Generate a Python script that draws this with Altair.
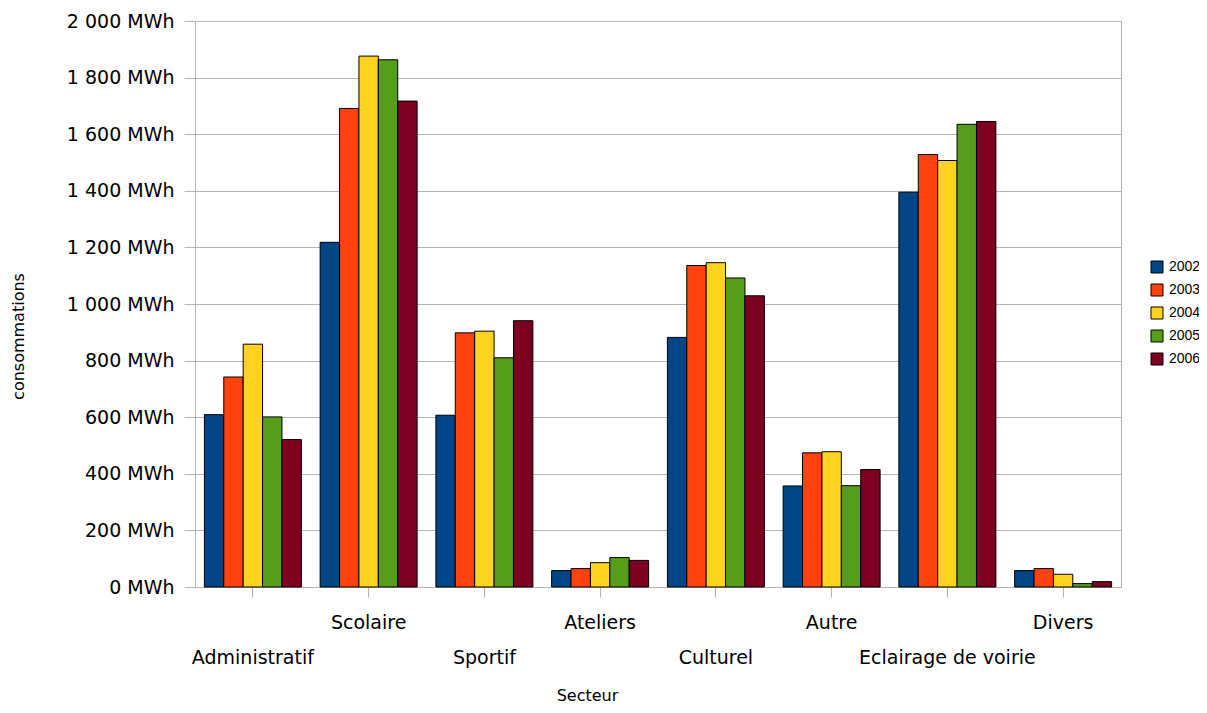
import altair as alt
import pandas as pd

secteurs = ["Administratif", "Scolaire", "Sportif", "Ateliers", "Culturel",
            "Autre", "Eclairage de voirie", "Divers"]
annees = ["2002", "2003", "2004", "2005", "2006"]
v2002 = [609, 1218, 607, 58, 882, 357, 1395, 58]
v2003 = [742, 1691, 898, 65, 1136, 474, 1528, 65]
v2004 = [858, 1876, 904, 86, 1146, 478, 1507, 45]
v2005 = [601, 1863, 810, 104, 1092, 358, 1635, 12]
v2006 = [521, 1717, 941, 94, 1029, 415, 1645, 19]
couleurs = ["#004586", "#ff420e", "#ffd320", "#579d1c", "#7e0021"]
y_ticks = list(range(0, 2001, 200))
upper_labels = ["Scolaire", "Ateliers", "Autre", "Divers"]

series = {"2002": v2002, "2003": v2003, "2004": v2004, "2005": v2005, "2006": v2006}
rows = []
for an in annees:
    for s, v in zip(secteurs, series[an]):
        rows.append({"Secteur": s, "Annee": an, "Consommation": v})
df = pd.DataFrame(rows)

GRID = "#b3b3b3"
FONT = "DejaVu Sans"

upper_js = "[" + ",".join("'%s'" % u for u in upper_labels) + "]"

chart = alt.Chart(df).mark_bar(stroke="black", strokeWidth=1).encode(
    x=alt.X(
        "Secteur:N",
        sort=secteurs,
        scale=alt.Scale(paddingInner=0.162, paddingOuter=0.081),
        axis=alt.Axis(
            title="Secteur",
            titleFont=FONT,
            titleFontSize=16,
            titleFontWeight="normal",
            titleColor="#000000",
            titleX=392,
            titleY=108,
            titleAlign="center",
            titleBaseline="middle",
            labelAngle=0,
            labelFont=FONT,
            labelFontSize=19,
            labelColor="#000000",
            labelPadding=16,
            labelLineHeight=35,
            labelOverlap=False,
            labelBound=False,
            labelExpr="indexof(" + upper_js + ", datum.value) >= 0 ? datum.label : ['', datum.label]",
            tickSize=10,
            tickColor=GRID,
            domainColor=GRID,
            grid=False,
        ),
    ),
    xOffset=alt.XOffset("Annee:N", sort=annees,
                        scale=alt.Scale(paddingInner=0, paddingOuter=0)),
    y=alt.Y(
        "Consommation:Q",
        scale=alt.Scale(domain=[0, 2000], nice=False),
        axis=alt.Axis(
            title="consommations",
            titleFont=FONT,
            titleFontSize=16,
            titleFontWeight="normal",
            titleColor="#000000",
            titleX=-177,
            titleY=315,
            titleAlign="center",
            titleBaseline="middle",
            values=y_ticks,
            labelExpr="replace(format(datum.value, ','), ',', ' ') + ' MWh'",
            labelFont=FONT,
            labelFontSize=19,
            labelColor="#000000",
            labelPadding=10,
            tickSize=11,
            tickColor=GRID,
            domainColor=GRID,
            gridColor=GRID,
            gridWidth=1,
        ),
    ),
    color=alt.Color(
        "Annee:N",
        scale=alt.Scale(domain=annees, range=couleurs),
        legend=alt.Legend(
            title=None,
            orient="none",
            legendX=955,
            legendY=239,
            padding=0,
            symbolType="square",
            symbolSize=144,
            symbolStrokeColor="black",
            symbolStrokeWidth=1,
            labelFont="Liberation Sans",
            labelFontSize=14,
            labelColor="#000000",
            labelOffset=5,
            rowPadding=7,
        ),
    ),
).properties(
    width=926,
    height=566,
    autosize=alt.AutoSizeParams(type="none"),
    padding={"left": 187, "top": 13, "right": 78, "bottom": 116},
).configure_view(stroke=GRID, strokeWidth=1)

chart.save("out.html", embed_options={"renderer": "svg", "actions": False})
